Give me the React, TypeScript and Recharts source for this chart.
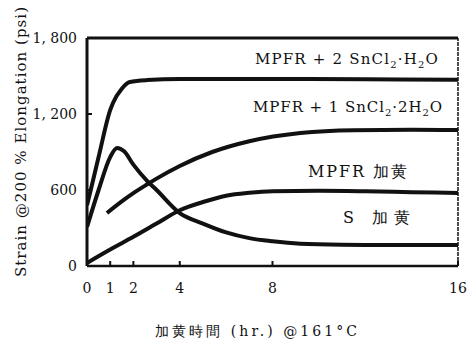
import React from 'react';
import { LineChart, Line, XAxis, YAxis, ReferenceLine, ReferenceDot, Label } from 'recharts';

// Time (hr.) and strain (psi) for each curve
const timeA = [0, 0.13, 0.5, 1, 1.12, 1.5, 1.85, 2.6, 4, 8, 12, 16];
const strainA = [480, 576, 860, 1230, 1287, 1400, 1453, 1468, 1476, 1476, 1474, 1470];

const timeB = [0.86, 1.5, 2, 2.6, 3, 4, 5.4, 7, 9.2, 11.5, 14, 16];
const strainB = [418, 510, 575, 645, 690, 790, 900, 985, 1050, 1072, 1075, 1073];

const timeC = [0, 1, 2, 3, 4, 5, 6, 7, 8, 10, 12, 14, 16];
const strainC = [24, 130, 230, 335, 440, 505, 555, 578, 590, 594, 590, 583, 576];

const timeD = [0, 0.5, 1, 1.3, 1.6, 2, 2.6, 3, 4, 5, 6, 7, 8, 9.2, 11, 13, 16];
const strainD = [308, 600, 860, 931, 905, 800, 670, 600, 418, 335, 265, 220, 195, 176, 168, 166, 166];

const xTicks = [0, 1, 2, 4, 8, 16];
const yTicks = [0, 600, 1200, 1800];
const yTickLabels = ['0', '600', '1, 200', '1, 800'];

const seriesNames = ['MPFR+2 SnCl2·H2O', 'MPFR+1 SnCl2·2H2O', 'MPFR 加黄', 'S 加黄'];
const xTitle = '加黄時間 (hr.) @161°C';
const yTitle = 'Strain @200 % Elongation (psi)';

const build = (t: number[], v: number[]) => t.map((x, i) => ({ t: x, v: v[i] }));
const dataA = build(timeA, strainA);
const dataB = build(timeB, strainB);
const dataC = build(timeC, strainC);
const dataD = build(timeD, strainD);

// label anchor points (data coords)
const labelPos = [
  { t: 7.24, v: 1595, len: 183 },
  { t: 7.16, v: 1216, len: 189 },
  { t: 9.53, v: 703, len: 99 },
  { t: 11.04, v: 339, len: 67 },
];

const FONT = "'DejaVu Serif', serif";
const INK = '#111';

const renderName = (idx: number) => {
  if (idx === 0) {
    return [
      <tspan key="a">MPFR + 2 SnCl</tspan>,
      <tspan key="b" dy={4} fontSize={10}>2</tspan>,
      <tspan key="c" dy={-4}>·H</tspan>,
      <tspan key="d" dy={4} fontSize={10}>2</tspan>,
      <tspan key="e" dy={-4}>O</tspan>,
    ];
  }
  if (idx === 1) {
    return [
      <tspan key="a">MPFR + 1 SnCl</tspan>,
      <tspan key="b" dy={4} fontSize={10}>2</tspan>,
      <tspan key="c" dy={-4}>·2H</tspan>,
      <tspan key="d" dy={4} fontSize={10}>2</tspan>,
      <tspan key="e" dy={-4}>O</tspan>,
    ];
  }
  return seriesNames[idx];
};

const makeShape = (idx: number) => (p: any) => (
  <text
    x={p.cx}
    y={p.cy}
    style={{ fontFamily: FONT }}
    fontSize={idx >= 2 ? 16 : 15}
    fill={INK}
    textLength={labelPos[idx].len}
    lengthAdjust="spacing"
  >
    {renderName(idx)}
  </text>
);

export default function App() {
  return (
    <div style={{ position: 'absolute', left: 0, top: 0, background: '#fff', fontFamily: FONT }}>
      <LineChart width={468} height={345} margin={{ top: 38, right: 10, left: 0, bottom: 39 }} style={{ fontFamily: FONT }}>
        <XAxis
          dataKey="t"
          type="number"
          domain={[0, 16]}
          ticks={xTicks}
          allowDataOverflow
          height={40}
          tickSize={-5}
          tickMargin={22}
          axisLine={{ stroke: INK, strokeWidth: 2.5 }}
          tickLine={{ stroke: INK, strokeWidth: 2 }}
          tick={{ fill: INK, fontSize: 14, style: { fontFamily: FONT } }}
        >
          <Label
            content={() => (
              <text
                x={155}
                y={336}
                style={{ fontFamily: FONT }}
                fontSize={14}
                fill={INK}
                textLength={202}
                lengthAdjust="spacing"
              >
                {xTitle}
              </text>
            )}
          />
        </XAxis>
        <YAxis
          type="number"
          domain={[0, 1800]}
          ticks={yTicks}
          width={87}
          tickSize={-5}
          tickMargin={15}
          tickFormatter={(v: number) => yTickLabels[yTicks.indexOf(v)]}
          axisLine={{ stroke: INK, strokeWidth: 3 }}
          tickLine={{ stroke: INK, strokeWidth: 2 }}
          tick={{ fill: INK, fontSize: 14, style: { fontFamily: FONT } }}
        >
          <Label
            content={() => (
              <text
                x={0}
                y={0}
                transform="translate(26 277) rotate(-90)"
                style={{ fontFamily: FONT }}
                fontSize={15}
                fill={INK}
                textLength={270}
                lengthAdjust="spacing"
              >
                {yTitle}
              </text>
            )}
          />
        </YAxis>
        <ReferenceLine y={1800} stroke={INK} strokeWidth={3} ifOverflow="visible" />
        <ReferenceLine x={16} stroke={INK} strokeWidth={1.5} strokeDasharray="4 1" ifOverflow="visible" />
        <Line data={dataA} dataKey="v" type="monotone" stroke={INK} strokeWidth={4} dot={false} isAnimationActive={false} />
        <Line data={dataB} dataKey="v" type="monotone" stroke={INK} strokeWidth={4} dot={false} isAnimationActive={false} />
        <Line data={dataC} dataKey="v" type="monotone" stroke={INK} strokeWidth={4} dot={false} isAnimationActive={false} />
        <Line data={dataD} dataKey="v" type="monotone" stroke={INK} strokeWidth={4} dot={false} isAnimationActive={false} />
        {labelPos.map((l, i) => (
          <ReferenceDot key={i} x={l.t} y={l.v} r={0} ifOverflow="visible" shape={makeShape(i)} />
        ))}
      </LineChart>
    </div>
  );
}
